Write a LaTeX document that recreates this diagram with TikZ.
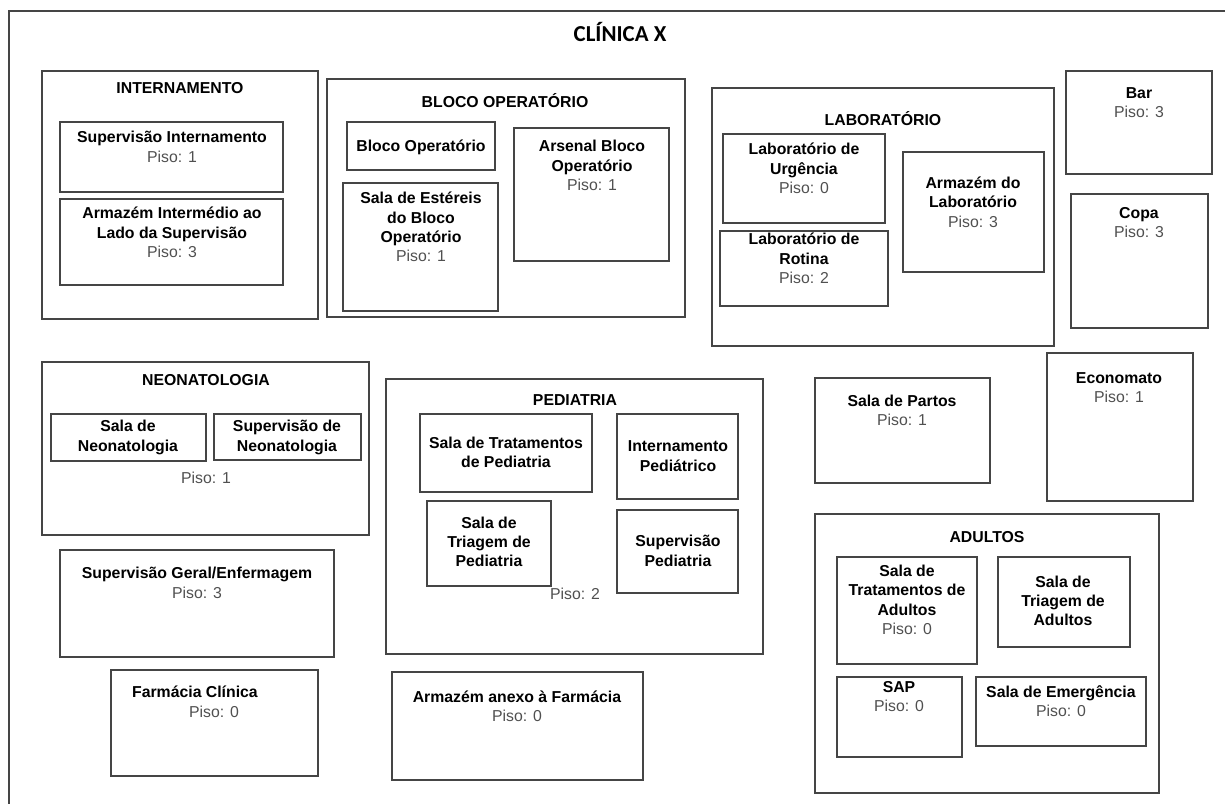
\documentclass[tikz,border=0pt]{standalone}
\usepackage{fontspec}
\setmainfont{Liberation Sans}
\newfontfamily\carlito{Carlito}
\usepackage{xcolor}
\usepackage{tikz}
\usetikzlibrary{positioning}
\definecolor{LIN}{HTML}{454545}
\definecolor{PISO}{HTML}{505050}
\tikzset{
  SALA/.style={% Style for room boxes
      rectangle,
      line width=1pt,
      draw=LIN,
      inner sep=0pt,
  },
  TXT/.style={% Style for room texts
      align=center,
      inner sep=0pt,
      font=\fontsize{9}{11}\selectfont,
  },
  TIT/.style={% Style for group titles
      TXT,
      font=\fontsize{9}{11}\selectfont\bfseries,
  }
}
\def\px{0.02cm}
\def\piso#1{\textcolor{PISO}{Piso: #1}}
\def\sala(#1,#2)(#3,#4)#5{% box from top left corner to bottom right corner
  \node[SALA, minimum width={(#3-#1)*\px}, minimum height={(#4-#2)*\px}] (#5) at ({(#1+#3)/2},{(#2+#4)/2}) {};%
}
\begin{document}
\begin{tikzpicture}[x=\px, y=-\px]
    \useasboundingbox (0,0) rectangle (1225,804);
    \clip (0,0) rectangle (1225,804);
    \draw[line width=1pt, draw=LIN] (9,11) rectangle (1260,840);
    \node[font=\carlito\fontsize{13}{15}\selectfont\bfseries] (clinica) at (620,32) {CLÍNICA X};
    % internamento
    \sala(42,71)(318,319){internamento}
    \node[TIT] (internamento-t) at (180,88) {INTERNAMENTO};
    \sala(60,122)(283,192){supInt}
    \node[TXT] (supInt-t) at (172,147) {\textbf{Supervisão Internamento}\\\piso{1}};
    \sala(60,199)(283,285){armInt}
    \node[TXT] (armInt-t) at (172,232.5) {\textbf{Armazém Intermédio ao}\\\textbf{Lado da Supervisão}\\\piso{3}};
    % bloco operatorio
    \sala(327,79)(685,317){bloco}
    \node[TIT] (bloco-t) at (505,101) {BLOCO OPERATÓRIO};
    \sala(347,122)(495,170){blocoOp}
    \node[TXT] (blocoOp-t) at (421,147) {\textbf{Bloco Operatório}};
    \sala(343,183)(498,311){estereis}
    \node[TXT] (estereis-t) at (421,227) {\textbf{Sala de Estéreis}\\\textbf{do Bloco}\\\textbf{Operatório}\\\piso{1}};
    \sala(514,128)(669,261){arsenal}
    \node[TXT] (arsenal-t) at (592,165.5) {\textbf{Arsenal Bloco}\\\textbf{Operatório}\\\piso{1}};
    % laboratorio
    \sala(712,88)(1054,346){lab}
    \node[TIT] (lab-t) at (883,119) {LABORATÓRIO};
    \sala(723,134)(885,223){labUrg}
    \node[TXT] (labUrg-t) at (804,168.5) {\textbf{Laboratório de}\\\textbf{Urgência}\\\piso{0}};
    \sala(720,231)(888,306){labRot}
    \node[TXT] (labRot-t) at (804,258.5) {\textbf{Laboratório de}\\\textbf{Rotina}\\\piso{2}};
    \sala(903,152)(1044,272){labArm}
    \node[TXT] (labArm-t) at (973,202) {\textbf{Armazém do}\\\textbf{Laboratório}\\\piso{3}};
    \sala(1066,71)(1212,174){bar}
    \node[TXT] (bar-t) at (1139,102.5) {\textbf{Bar}\\\piso{3}};
    \sala(1071,194)(1208,328){copa}
    \node[TXT] (copa-t) at (1139,222.5) {\textbf{Copa}\\\piso{3}};
    % neonatologia
    \sala(42,362)(369,535){neo}
    \node[TIT] (neo-t) at (206,380) {NEONATOLOGIA};
    \sala(51,414)(206,461){neoSala}
    \node[TXT] (neoSala-t) at (128,437.5) {\textbf{Sala de}\\\textbf{Neonatologia}};
    \sala(214,414)(361,460){neoSup}
    \node[TXT] (neoSup-t) at (287,437.5) {\textbf{Supervisão de}\\\textbf{Neonatologia}};
    \node[TXT] (neo-p) at (206,478) {\piso{1}};
    \sala(60,550)(334,657){supGeral}
    \node[TXT] (supGeral-t) at (197,583) {\textbf{Supervisão Geral/Enfermagem}\\\piso{3}};
    \sala(111,670)(318,776){farmacia}
    \node[TXT] (farmacia-t) at (195,692) {\textbf{Farmácia Clínica}};
    \node[TXT] (farmacia-p) at (214,712) {\piso{0}};
    % pediatria
    \sala(386,379)(763,654){ped}
    \node[TIT] (ped-t) at (575,400) {PEDIATRIA};
    \sala(420,414)(592,492){pedTrat}
    \node[TXT] (pedTrat-t) at (506,452.5) {\textbf{Sala de Tratamentos}\\\textbf{de Pediatria}};
    \sala(617,414)(738,499){pedInt}
    \node[TXT] (pedInt-t) at (678,456) {\textbf{Internamento}\\\textbf{Pediátrico}};
    \sala(427,501)(551,586){pedTri}
    \node[TXT] (pedTri-t) at (489,542) {\textbf{Sala de}\\\textbf{Triagem de}\\\textbf{Pediatria}};
    \sala(617,510)(738,593){pedSup}
    \node[TXT] (pedSup-t) at (678,551) {\textbf{Supervisão}\\\textbf{Pediatria}};
    \node[TXT] (ped-p) at (575,594) {\piso{2}};
    \sala(392,672)(643,780){armFarm}
    \node[TXT] (armFarm-t) at (517,706) {\textbf{Armazém anexo à Farmácia}\\\piso{0}};
    % partos, economato
    \sala(815,378)(990,483){partos}
    \node[TXT] (partos-t) at (902,410.5) {\textbf{Sala de Partos}\\\piso{1}};
    \sala(1047,353)(1193,501){economato}
    \node[TXT] (economato-t) at (1119,387.5) {\textbf{Economato}\\\piso{1}};
    % adultos
    \sala(815,514)(1159,793){adultos}
    \node[TIT] (adultos-t) at (987,537) {ADULTOS};
    \sala(837,557)(977,664){adTrat}
    \node[TXT] (adTrat-t) at (907,600) {\textbf{Sala de}\\\textbf{Tratamentos de}\\\textbf{Adultos}\\\piso{0}};
    \sala(998,557)(1130,647){adTri}
    \node[TXT] (adTri-t) at (1063,601) {\textbf{Sala de}\\\textbf{Triagem de}\\\textbf{Adultos}};
    \sala(837,677)(962,757){sap}
    \node[TXT] (sap-t) at (899,696.5) {\textbf{SAP}\\\piso{0}};
    \sala(976,677)(1146,746){emerg}
    \node[TXT] (emerg-t) at (1061,701.5) {\textbf{Sala de Emergência}\\\piso{0}};
\end{tikzpicture}
\end{document}
